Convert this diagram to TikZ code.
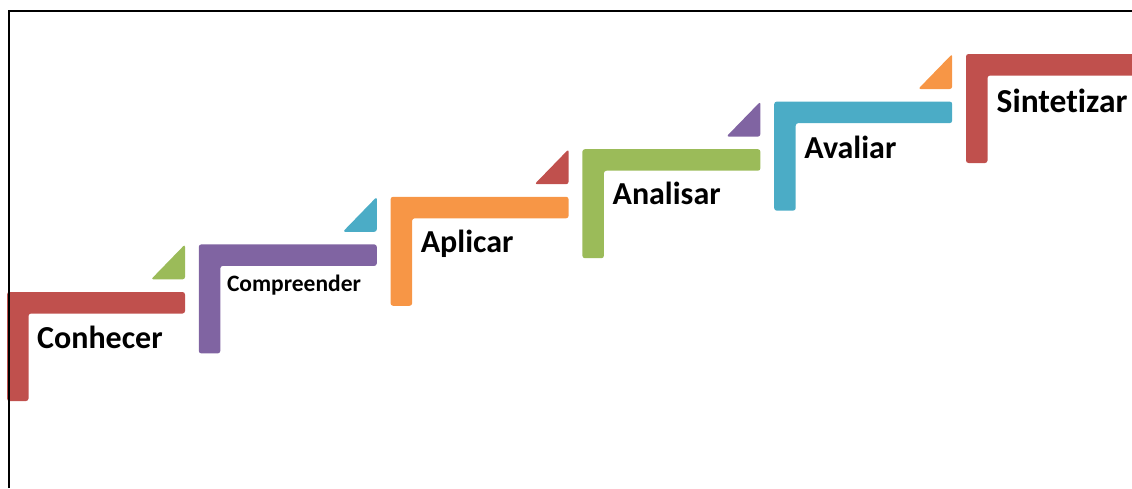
\documentclass[tikz,border=0pt]{standalone}
\usepackage{fontspec}
\setmainfont{Carlito}[Ligatures={NoCommon}]
\definecolor{cred}{HTML}{C0504D}
\definecolor{cpurple}{HTML}{8064A2}
\definecolor{corange}{HTML}{F79646}
\definecolor{cgreen}{HTML}{9BBB59}
\definecolor{cblue}{HTML}{4BACC6}
\begin{document}
\begin{tikzpicture}[x=1pt,y=-1pt,
  stepshape/.style={rounded corners=2.5pt},
  tri/.style={rounded corners=2.5pt},
  biglabel/.style={anchor=base west,inner sep=0pt,font=\bfseries\fontsize{32}{36}\selectfont},
  toplabel/.style={anchor=base west,inner sep=0pt,font=\bfseries\fontsize{33.5}{38}\selectfont},
  smalllabel/.style={anchor=base west,inner sep=0pt,font=\bfseries\fontsize{23.5}{28}\selectfont},
  frame/.style={draw=black,line width=2pt}]
\useasboundingbox (0,0) rectangle (1132,488);
% steps
\foreach \k/\col in {0/cred,1/cpurple,2/corange,3/cgreen,4/cblue,5/cred}{
  \pgfmathsetmacro{\xx}{7+191.8*\k}
  \pgfmathsetmacro{\yy}{292-47.6*\k}
  \fill[\col,stepshape] (\xx,\yy) -- ++(178,0) -- ++(0,21.5) -- ++(-156.5,0) -- ++(0,87.5) -- ++(-21.5,0) -- cycle;
  \coordinate (s\k) at (\xx,\yy);
}
% triangles
\foreach \k/\col in {1/cgreen,2/cblue,3/cred,4/cpurple,5/corange}{
  \pgfmathsetmacro{\xr}{7+191.8*(\k-1)+178}
  \pgfmathsetmacro{\yt}{292-47.6*\k}
  \fill[\col,tri] (\xr,\yt) -- ++(0,35) -- ++(-34,0) -- cycle;
}
% labels
\node[biglabel] (l0) at ([shift={(30,56)}]s0) {Conhecer};
\node[smalllabel] (l1) at ([shift={(28,47)}]s1) {Compreender};
\node[biglabel] (l2) at ([shift={(30,56)}]s2) {Aplicar};
\node[biglabel] (l3) at ([shift={(30,55.5)}]s3) {Analisar};
\node[biglabel] (l4) at ([shift={(30,56.5)}]s4) {Avaliar};
\node[toplabel] (l5) at ([shift={(30.5,58)}]s5) {Sintetizar};
% frame (left and top only)
\coordinate (fb) at (9,488);
\coordinate (fc) at (9,11);
\coordinate (fr) at (1132,11);
\draw[frame] (fb) -- (fc) -- (fr);
\end{tikzpicture}
\end{document}
